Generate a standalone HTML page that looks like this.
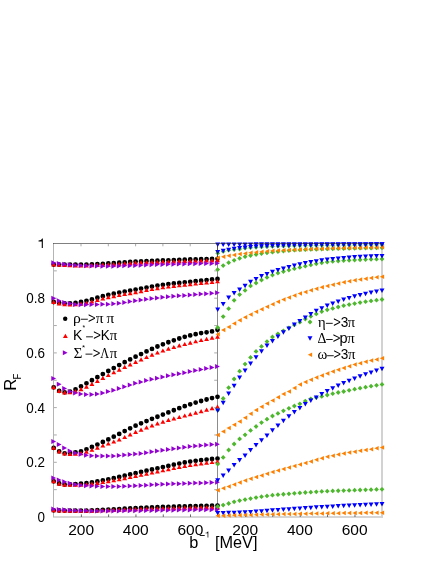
<!DOCTYPE html>
<html><head><meta charset="utf-8"><title>R_F vs b^-1</title>
<style>
html,body{margin:0;padding:0;background:#fff;}
body{width:436px;height:564px;overflow:hidden;font-family:"Liberation Sans",sans-serif;}
svg{display:block}
svg text{font-family:"Liberation Sans",sans-serif;fill:#000}
</style></head><body>
<svg width="436" height="564" viewBox="0 0 436 564">
<defs><filter id="aa" x="0" y="0" width="436" height="564" filterUnits="userSpaceOnUse"><feOffset dx="0" dy="0"/></filter></defs>
<rect width="436" height="564" fill="#fff"/>
<g id="frame-under">
<rect x="53" y="516" width="330" height="2" fill="#d6d6d6"/>
<rect x="381" y="243" width="2" height="275" fill="#d2d2d2"/>
<rect x="53" y="243" width="1" height="274" fill="#b4b4b4"/>
<rect x="217" y="243" width="1" height="274" fill="#8c8c8c"/>
<rect x="54" y="489.15" width="2.8" height="1" fill="#ababab"/>
<rect x="214.2" y="489.15" width="2.8" height="1" fill="#ababab"/>
<rect x="54" y="461.80" width="2.8" height="1" fill="#ababab"/>
<rect x="214.2" y="461.80" width="2.8" height="1" fill="#ababab"/>
<rect x="54" y="434.45" width="2.8" height="1" fill="#ababab"/>
<rect x="214.2" y="434.45" width="2.8" height="1" fill="#ababab"/>
<rect x="54" y="407.10" width="2.8" height="1" fill="#ababab"/>
<rect x="214.2" y="407.10" width="2.8" height="1" fill="#ababab"/>
<rect x="54" y="379.75" width="2.8" height="1" fill="#ababab"/>
<rect x="214.2" y="379.75" width="2.8" height="1" fill="#ababab"/>
<rect x="54" y="352.40" width="2.8" height="1" fill="#ababab"/>
<rect x="214.2" y="352.40" width="2.8" height="1" fill="#ababab"/>
<rect x="54" y="325.05" width="2.8" height="1" fill="#ababab"/>
<rect x="214.2" y="325.05" width="2.8" height="1" fill="#ababab"/>
<rect x="54" y="297.70" width="2.8" height="1" fill="#ababab"/>
<rect x="214.2" y="297.70" width="2.8" height="1" fill="#ababab"/>
<rect x="54" y="270.35" width="2.8" height="1" fill="#ababab"/>
<rect x="214.2" y="270.35" width="2.8" height="1" fill="#ababab"/>
<rect x="80.50" y="244" width="1" height="2.3" fill="#aaa"/>
<rect x="80.90" y="514.4" width="0.9" height="2.6" fill="#5a5a5a"/>
<rect x="244.58" y="244" width="1" height="2.3" fill="#aaa"/>
<rect x="244.98" y="514.4" width="0.9" height="2.6" fill="#5a5a5a"/>
<rect x="107.80" y="244" width="1" height="2.3" fill="#aaa"/>
<rect x="108.20" y="514.4" width="0.9" height="2.6" fill="#5a5a5a"/>
<rect x="271.97" y="244" width="1" height="2.3" fill="#aaa"/>
<rect x="272.37" y="514.4" width="0.9" height="2.6" fill="#5a5a5a"/>
<rect x="135.10" y="244" width="1" height="2.3" fill="#aaa"/>
<rect x="135.50" y="514.4" width="0.9" height="2.6" fill="#5a5a5a"/>
<rect x="299.35" y="244" width="1" height="2.3" fill="#aaa"/>
<rect x="299.75" y="514.4" width="0.9" height="2.6" fill="#5a5a5a"/>
<rect x="162.40" y="244" width="1" height="2.3" fill="#aaa"/>
<rect x="162.80" y="514.4" width="0.9" height="2.6" fill="#5a5a5a"/>
<rect x="326.73" y="244" width="1" height="2.3" fill="#aaa"/>
<rect x="327.13" y="514.4" width="0.9" height="2.6" fill="#5a5a5a"/>
<rect x="189.70" y="244" width="1" height="2.3" fill="#aaa"/>
<rect x="190.10" y="514.4" width="0.9" height="2.6" fill="#5a5a5a"/>
<rect x="354.12" y="244" width="1" height="2.3" fill="#aaa"/>
<rect x="354.52" y="514.4" width="0.9" height="2.6" fill="#5a5a5a"/>
</g>
<g id="points">
<path fill="#000000" d="M51.30 264.50a2.4 2.4 0 1 0 4.8 0a2.4 2.4 0 1 0 -4.8 0ZM56.76 264.55a2.4 2.4 0 1 0 4.8 0a2.4 2.4 0 1 0 -4.8 0ZM62.22 264.58a2.4 2.4 0 1 0 4.8 0a2.4 2.4 0 1 0 -4.8 0ZM67.68 264.59a2.4 2.4 0 1 0 4.8 0a2.4 2.4 0 1 0 -4.8 0ZM73.14 264.60a2.4 2.4 0 1 0 4.8 0a2.4 2.4 0 1 0 -4.8 0ZM78.60 264.60a2.4 2.4 0 1 0 4.8 0a2.4 2.4 0 1 0 -4.8 0ZM84.06 264.53a2.4 2.4 0 1 0 4.8 0a2.4 2.4 0 1 0 -4.8 0ZM89.52 264.35a2.4 2.4 0 1 0 4.8 0a2.4 2.4 0 1 0 -4.8 0ZM94.98 264.09a2.4 2.4 0 1 0 4.8 0a2.4 2.4 0 1 0 -4.8 0ZM100.44 263.79a2.4 2.4 0 1 0 4.8 0a2.4 2.4 0 1 0 -4.8 0ZM105.90 263.50a2.4 2.4 0 1 0 4.8 0a2.4 2.4 0 1 0 -4.8 0ZM111.36 263.17a2.4 2.4 0 1 0 4.8 0a2.4 2.4 0 1 0 -4.8 0ZM116.82 262.76a2.4 2.4 0 1 0 4.8 0a2.4 2.4 0 1 0 -4.8 0ZM122.28 262.34a2.4 2.4 0 1 0 4.8 0a2.4 2.4 0 1 0 -4.8 0ZM127.74 261.93a2.4 2.4 0 1 0 4.8 0a2.4 2.4 0 1 0 -4.8 0ZM133.20 261.60a2.4 2.4 0 1 0 4.8 0a2.4 2.4 0 1 0 -4.8 0ZM138.66 261.34a2.4 2.4 0 1 0 4.8 0a2.4 2.4 0 1 0 -4.8 0ZM144.12 261.11a2.4 2.4 0 1 0 4.8 0a2.4 2.4 0 1 0 -4.8 0ZM149.58 260.90a2.4 2.4 0 1 0 4.8 0a2.4 2.4 0 1 0 -4.8 0ZM155.04 260.70a2.4 2.4 0 1 0 4.8 0a2.4 2.4 0 1 0 -4.8 0ZM160.50 260.50a2.4 2.4 0 1 0 4.8 0a2.4 2.4 0 1 0 -4.8 0ZM165.96 260.29a2.4 2.4 0 1 0 4.8 0a2.4 2.4 0 1 0 -4.8 0ZM171.42 260.08a2.4 2.4 0 1 0 4.8 0a2.4 2.4 0 1 0 -4.8 0ZM176.88 259.87a2.4 2.4 0 1 0 4.8 0a2.4 2.4 0 1 0 -4.8 0ZM182.34 259.68a2.4 2.4 0 1 0 4.8 0a2.4 2.4 0 1 0 -4.8 0ZM187.80 259.50a2.4 2.4 0 1 0 4.8 0a2.4 2.4 0 1 0 -4.8 0ZM193.26 259.34a2.4 2.4 0 1 0 4.8 0a2.4 2.4 0 1 0 -4.8 0ZM198.72 259.19a2.4 2.4 0 1 0 4.8 0a2.4 2.4 0 1 0 -4.8 0ZM204.18 259.05a2.4 2.4 0 1 0 4.8 0a2.4 2.4 0 1 0 -4.8 0ZM209.64 258.92a2.4 2.4 0 1 0 4.8 0a2.4 2.4 0 1 0 -4.8 0ZM215.10 258.80a2.4 2.4 0 1 0 4.8 0a2.4 2.4 0 1 0 -4.8 0Z"/>
<path fill="#000000" d="M51.30 302.00a2.4 2.4 0 1 0 4.8 0a2.4 2.4 0 1 0 -4.8 0ZM56.76 302.86a2.4 2.4 0 1 0 4.8 0a2.4 2.4 0 1 0 -4.8 0ZM62.22 303.30a2.4 2.4 0 1 0 4.8 0a2.4 2.4 0 1 0 -4.8 0ZM67.68 303.40a2.4 2.4 0 1 0 4.8 0a2.4 2.4 0 1 0 -4.8 0ZM73.14 302.92a2.4 2.4 0 1 0 4.8 0a2.4 2.4 0 1 0 -4.8 0ZM78.60 302.00a2.4 2.4 0 1 0 4.8 0a2.4 2.4 0 1 0 -4.8 0ZM84.06 300.87a2.4 2.4 0 1 0 4.8 0a2.4 2.4 0 1 0 -4.8 0ZM89.52 299.40a2.4 2.4 0 1 0 4.8 0a2.4 2.4 0 1 0 -4.8 0ZM94.98 297.77a2.4 2.4 0 1 0 4.8 0a2.4 2.4 0 1 0 -4.8 0ZM100.44 296.18a2.4 2.4 0 1 0 4.8 0a2.4 2.4 0 1 0 -4.8 0ZM105.90 294.80a2.4 2.4 0 1 0 4.8 0a2.4 2.4 0 1 0 -4.8 0ZM111.36 293.65a2.4 2.4 0 1 0 4.8 0a2.4 2.4 0 1 0 -4.8 0ZM116.82 292.58a2.4 2.4 0 1 0 4.8 0a2.4 2.4 0 1 0 -4.8 0ZM122.28 291.57a2.4 2.4 0 1 0 4.8 0a2.4 2.4 0 1 0 -4.8 0ZM127.74 290.59a2.4 2.4 0 1 0 4.8 0a2.4 2.4 0 1 0 -4.8 0ZM133.20 289.60a2.4 2.4 0 1 0 4.8 0a2.4 2.4 0 1 0 -4.8 0ZM138.66 288.58a2.4 2.4 0 1 0 4.8 0a2.4 2.4 0 1 0 -4.8 0ZM144.12 287.55a2.4 2.4 0 1 0 4.8 0a2.4 2.4 0 1 0 -4.8 0ZM149.58 286.54a2.4 2.4 0 1 0 4.8 0a2.4 2.4 0 1 0 -4.8 0ZM155.04 285.61a2.4 2.4 0 1 0 4.8 0a2.4 2.4 0 1 0 -4.8 0ZM160.50 284.80a2.4 2.4 0 1 0 4.8 0a2.4 2.4 0 1 0 -4.8 0ZM165.96 284.11a2.4 2.4 0 1 0 4.8 0a2.4 2.4 0 1 0 -4.8 0ZM171.42 283.50a2.4 2.4 0 1 0 4.8 0a2.4 2.4 0 1 0 -4.8 0ZM176.88 282.93a2.4 2.4 0 1 0 4.8 0a2.4 2.4 0 1 0 -4.8 0ZM182.34 282.37a2.4 2.4 0 1 0 4.8 0a2.4 2.4 0 1 0 -4.8 0ZM187.80 281.80a2.4 2.4 0 1 0 4.8 0a2.4 2.4 0 1 0 -4.8 0ZM193.26 281.21a2.4 2.4 0 1 0 4.8 0a2.4 2.4 0 1 0 -4.8 0ZM198.72 280.63a2.4 2.4 0 1 0 4.8 0a2.4 2.4 0 1 0 -4.8 0ZM204.18 280.05a2.4 2.4 0 1 0 4.8 0a2.4 2.4 0 1 0 -4.8 0ZM209.64 279.47a2.4 2.4 0 1 0 4.8 0a2.4 2.4 0 1 0 -4.8 0ZM215.10 278.90a2.4 2.4 0 1 0 4.8 0a2.4 2.4 0 1 0 -4.8 0Z"/>
<path fill="#000000" d="M51.30 387.30a2.4 2.4 0 1 0 4.8 0a2.4 2.4 0 1 0 -4.8 0ZM56.76 390.90a2.4 2.4 0 1 0 4.8 0a2.4 2.4 0 1 0 -4.8 0ZM62.22 392.30a2.4 2.4 0 1 0 4.8 0a2.4 2.4 0 1 0 -4.8 0ZM67.68 391.70a2.4 2.4 0 1 0 4.8 0a2.4 2.4 0 1 0 -4.8 0ZM73.14 389.30a2.4 2.4 0 1 0 4.8 0a2.4 2.4 0 1 0 -4.8 0ZM78.60 386.40a2.4 2.4 0 1 0 4.8 0a2.4 2.4 0 1 0 -4.8 0ZM84.06 383.37a2.4 2.4 0 1 0 4.8 0a2.4 2.4 0 1 0 -4.8 0ZM89.52 380.27a2.4 2.4 0 1 0 4.8 0a2.4 2.4 0 1 0 -4.8 0ZM94.98 377.13a2.4 2.4 0 1 0 4.8 0a2.4 2.4 0 1 0 -4.8 0ZM100.44 374.03a2.4 2.4 0 1 0 4.8 0a2.4 2.4 0 1 0 -4.8 0ZM105.90 371.00a2.4 2.4 0 1 0 4.8 0a2.4 2.4 0 1 0 -4.8 0ZM111.36 368.04a2.4 2.4 0 1 0 4.8 0a2.4 2.4 0 1 0 -4.8 0ZM116.82 365.11a2.4 2.4 0 1 0 4.8 0a2.4 2.4 0 1 0 -4.8 0ZM122.28 362.22a2.4 2.4 0 1 0 4.8 0a2.4 2.4 0 1 0 -4.8 0ZM127.74 359.41a2.4 2.4 0 1 0 4.8 0a2.4 2.4 0 1 0 -4.8 0ZM133.20 356.70a2.4 2.4 0 1 0 4.8 0a2.4 2.4 0 1 0 -4.8 0ZM138.66 354.04a2.4 2.4 0 1 0 4.8 0a2.4 2.4 0 1 0 -4.8 0ZM144.12 351.42a2.4 2.4 0 1 0 4.8 0a2.4 2.4 0 1 0 -4.8 0ZM149.58 348.88a2.4 2.4 0 1 0 4.8 0a2.4 2.4 0 1 0 -4.8 0ZM155.04 346.49a2.4 2.4 0 1 0 4.8 0a2.4 2.4 0 1 0 -4.8 0ZM160.50 344.30a2.4 2.4 0 1 0 4.8 0a2.4 2.4 0 1 0 -4.8 0ZM165.96 342.26a2.4 2.4 0 1 0 4.8 0a2.4 2.4 0 1 0 -4.8 0ZM171.42 340.33a2.4 2.4 0 1 0 4.8 0a2.4 2.4 0 1 0 -4.8 0ZM176.88 338.51a2.4 2.4 0 1 0 4.8 0a2.4 2.4 0 1 0 -4.8 0ZM182.34 336.86a2.4 2.4 0 1 0 4.8 0a2.4 2.4 0 1 0 -4.8 0ZM187.80 335.40a2.4 2.4 0 1 0 4.8 0a2.4 2.4 0 1 0 -4.8 0ZM193.26 334.16a2.4 2.4 0 1 0 4.8 0a2.4 2.4 0 1 0 -4.8 0ZM198.72 333.10a2.4 2.4 0 1 0 4.8 0a2.4 2.4 0 1 0 -4.8 0ZM204.18 332.29a2.4 2.4 0 1 0 4.8 0a2.4 2.4 0 1 0 -4.8 0ZM209.64 331.40a2.4 2.4 0 1 0 4.8 0a2.4 2.4 0 1 0 -4.8 0ZM215.10 329.80a2.4 2.4 0 1 0 4.8 0a2.4 2.4 0 1 0 -4.8 0Z"/>
<path fill="#000000" d="M51.30 447.90a2.4 2.4 0 1 0 4.8 0a2.4 2.4 0 1 0 -4.8 0ZM56.76 451.30a2.4 2.4 0 1 0 4.8 0a2.4 2.4 0 1 0 -4.8 0ZM62.22 453.30a2.4 2.4 0 1 0 4.8 0a2.4 2.4 0 1 0 -4.8 0ZM67.68 452.90a2.4 2.4 0 1 0 4.8 0a2.4 2.4 0 1 0 -4.8 0ZM73.14 452.30a2.4 2.4 0 1 0 4.8 0a2.4 2.4 0 1 0 -4.8 0ZM78.60 451.30a2.4 2.4 0 1 0 4.8 0a2.4 2.4 0 1 0 -4.8 0ZM84.06 449.30a2.4 2.4 0 1 0 4.8 0a2.4 2.4 0 1 0 -4.8 0ZM89.52 447.02a2.4 2.4 0 1 0 4.8 0a2.4 2.4 0 1 0 -4.8 0ZM94.98 444.56a2.4 2.4 0 1 0 4.8 0a2.4 2.4 0 1 0 -4.8 0ZM100.44 442.00a2.4 2.4 0 1 0 4.8 0a2.4 2.4 0 1 0 -4.8 0ZM105.90 439.40a2.4 2.4 0 1 0 4.8 0a2.4 2.4 0 1 0 -4.8 0ZM111.36 436.71a2.4 2.4 0 1 0 4.8 0a2.4 2.4 0 1 0 -4.8 0ZM116.82 433.89a2.4 2.4 0 1 0 4.8 0a2.4 2.4 0 1 0 -4.8 0ZM122.28 431.04a2.4 2.4 0 1 0 4.8 0a2.4 2.4 0 1 0 -4.8 0ZM127.74 428.28a2.4 2.4 0 1 0 4.8 0a2.4 2.4 0 1 0 -4.8 0ZM133.20 425.70a2.4 2.4 0 1 0 4.8 0a2.4 2.4 0 1 0 -4.8 0ZM138.66 423.32a2.4 2.4 0 1 0 4.8 0a2.4 2.4 0 1 0 -4.8 0ZM144.12 421.05a2.4 2.4 0 1 0 4.8 0a2.4 2.4 0 1 0 -4.8 0ZM149.58 418.87a2.4 2.4 0 1 0 4.8 0a2.4 2.4 0 1 0 -4.8 0ZM155.04 416.73a2.4 2.4 0 1 0 4.8 0a2.4 2.4 0 1 0 -4.8 0ZM160.50 414.60a2.4 2.4 0 1 0 4.8 0a2.4 2.4 0 1 0 -4.8 0ZM165.96 412.44a2.4 2.4 0 1 0 4.8 0a2.4 2.4 0 1 0 -4.8 0ZM171.42 410.27a2.4 2.4 0 1 0 4.8 0a2.4 2.4 0 1 0 -4.8 0ZM176.88 408.15a2.4 2.4 0 1 0 4.8 0a2.4 2.4 0 1 0 -4.8 0ZM182.34 406.14a2.4 2.4 0 1 0 4.8 0a2.4 2.4 0 1 0 -4.8 0ZM187.80 404.30a2.4 2.4 0 1 0 4.8 0a2.4 2.4 0 1 0 -4.8 0ZM193.26 402.60a2.4 2.4 0 1 0 4.8 0a2.4 2.4 0 1 0 -4.8 0ZM198.72 401.00a2.4 2.4 0 1 0 4.8 0a2.4 2.4 0 1 0 -4.8 0ZM204.18 399.49a2.4 2.4 0 1 0 4.8 0a2.4 2.4 0 1 0 -4.8 0ZM209.64 398.08a2.4 2.4 0 1 0 4.8 0a2.4 2.4 0 1 0 -4.8 0ZM215.10 396.80a2.4 2.4 0 1 0 4.8 0a2.4 2.4 0 1 0 -4.8 0Z"/>
<path fill="#000000" d="M51.30 481.30a2.4 2.4 0 1 0 4.8 0a2.4 2.4 0 1 0 -4.8 0ZM56.76 483.49a2.4 2.4 0 1 0 4.8 0a2.4 2.4 0 1 0 -4.8 0ZM62.22 484.50a2.4 2.4 0 1 0 4.8 0a2.4 2.4 0 1 0 -4.8 0ZM67.68 484.38a2.4 2.4 0 1 0 4.8 0a2.4 2.4 0 1 0 -4.8 0ZM73.14 484.08a2.4 2.4 0 1 0 4.8 0a2.4 2.4 0 1 0 -4.8 0ZM78.60 483.70a2.4 2.4 0 1 0 4.8 0a2.4 2.4 0 1 0 -4.8 0ZM84.06 483.16a2.4 2.4 0 1 0 4.8 0a2.4 2.4 0 1 0 -4.8 0ZM89.52 482.36a2.4 2.4 0 1 0 4.8 0a2.4 2.4 0 1 0 -4.8 0ZM94.98 481.40a2.4 2.4 0 1 0 4.8 0a2.4 2.4 0 1 0 -4.8 0ZM100.44 480.35a2.4 2.4 0 1 0 4.8 0a2.4 2.4 0 1 0 -4.8 0ZM105.90 479.30a2.4 2.4 0 1 0 4.8 0a2.4 2.4 0 1 0 -4.8 0ZM111.36 478.21a2.4 2.4 0 1 0 4.8 0a2.4 2.4 0 1 0 -4.8 0ZM116.82 477.00a2.4 2.4 0 1 0 4.8 0a2.4 2.4 0 1 0 -4.8 0ZM122.28 475.73a2.4 2.4 0 1 0 4.8 0a2.4 2.4 0 1 0 -4.8 0ZM127.74 474.45a2.4 2.4 0 1 0 4.8 0a2.4 2.4 0 1 0 -4.8 0ZM133.20 473.20a2.4 2.4 0 1 0 4.8 0a2.4 2.4 0 1 0 -4.8 0ZM138.66 471.97a2.4 2.4 0 1 0 4.8 0a2.4 2.4 0 1 0 -4.8 0ZM144.12 470.73a2.4 2.4 0 1 0 4.8 0a2.4 2.4 0 1 0 -4.8 0ZM149.58 469.49a2.4 2.4 0 1 0 4.8 0a2.4 2.4 0 1 0 -4.8 0ZM155.04 468.28a2.4 2.4 0 1 0 4.8 0a2.4 2.4 0 1 0 -4.8 0ZM160.50 467.10a2.4 2.4 0 1 0 4.8 0a2.4 2.4 0 1 0 -4.8 0ZM165.96 465.91a2.4 2.4 0 1 0 4.8 0a2.4 2.4 0 1 0 -4.8 0ZM171.42 464.70a2.4 2.4 0 1 0 4.8 0a2.4 2.4 0 1 0 -4.8 0ZM176.88 463.54a2.4 2.4 0 1 0 4.8 0a2.4 2.4 0 1 0 -4.8 0ZM182.34 462.48a2.4 2.4 0 1 0 4.8 0a2.4 2.4 0 1 0 -4.8 0ZM187.80 461.60a2.4 2.4 0 1 0 4.8 0a2.4 2.4 0 1 0 -4.8 0ZM193.26 460.85a2.4 2.4 0 1 0 4.8 0a2.4 2.4 0 1 0 -4.8 0ZM198.72 460.15a2.4 2.4 0 1 0 4.8 0a2.4 2.4 0 1 0 -4.8 0ZM204.18 459.54a2.4 2.4 0 1 0 4.8 0a2.4 2.4 0 1 0 -4.8 0ZM209.64 459.01a2.4 2.4 0 1 0 4.8 0a2.4 2.4 0 1 0 -4.8 0ZM215.10 458.60a2.4 2.4 0 1 0 4.8 0a2.4 2.4 0 1 0 -4.8 0Z"/>
<path fill="#000000" d="M51.30 510.30a2.4 2.4 0 1 0 4.8 0a2.4 2.4 0 1 0 -4.8 0ZM56.76 510.48a2.4 2.4 0 1 0 4.8 0a2.4 2.4 0 1 0 -4.8 0ZM62.22 510.60a2.4 2.4 0 1 0 4.8 0a2.4 2.4 0 1 0 -4.8 0ZM67.68 510.66a2.4 2.4 0 1 0 4.8 0a2.4 2.4 0 1 0 -4.8 0ZM73.14 510.69a2.4 2.4 0 1 0 4.8 0a2.4 2.4 0 1 0 -4.8 0ZM78.60 510.70a2.4 2.4 0 1 0 4.8 0a2.4 2.4 0 1 0 -4.8 0ZM84.06 510.64a2.4 2.4 0 1 0 4.8 0a2.4 2.4 0 1 0 -4.8 0ZM89.52 510.47a2.4 2.4 0 1 0 4.8 0a2.4 2.4 0 1 0 -4.8 0ZM94.98 510.23a2.4 2.4 0 1 0 4.8 0a2.4 2.4 0 1 0 -4.8 0ZM100.44 509.96a2.4 2.4 0 1 0 4.8 0a2.4 2.4 0 1 0 -4.8 0ZM105.90 509.70a2.4 2.4 0 1 0 4.8 0a2.4 2.4 0 1 0 -4.8 0ZM111.36 509.42a2.4 2.4 0 1 0 4.8 0a2.4 2.4 0 1 0 -4.8 0ZM116.82 509.08a2.4 2.4 0 1 0 4.8 0a2.4 2.4 0 1 0 -4.8 0ZM122.28 508.73a2.4 2.4 0 1 0 4.8 0a2.4 2.4 0 1 0 -4.8 0ZM127.74 508.39a2.4 2.4 0 1 0 4.8 0a2.4 2.4 0 1 0 -4.8 0ZM133.20 508.10a2.4 2.4 0 1 0 4.8 0a2.4 2.4 0 1 0 -4.8 0ZM138.66 507.85a2.4 2.4 0 1 0 4.8 0a2.4 2.4 0 1 0 -4.8 0ZM144.12 507.61a2.4 2.4 0 1 0 4.8 0a2.4 2.4 0 1 0 -4.8 0ZM149.58 507.40a2.4 2.4 0 1 0 4.8 0a2.4 2.4 0 1 0 -4.8 0ZM155.04 507.19a2.4 2.4 0 1 0 4.8 0a2.4 2.4 0 1 0 -4.8 0ZM160.50 507.00a2.4 2.4 0 1 0 4.8 0a2.4 2.4 0 1 0 -4.8 0ZM165.96 506.82a2.4 2.4 0 1 0 4.8 0a2.4 2.4 0 1 0 -4.8 0ZM171.42 506.65a2.4 2.4 0 1 0 4.8 0a2.4 2.4 0 1 0 -4.8 0ZM176.88 506.49a2.4 2.4 0 1 0 4.8 0a2.4 2.4 0 1 0 -4.8 0ZM182.34 506.34a2.4 2.4 0 1 0 4.8 0a2.4 2.4 0 1 0 -4.8 0ZM187.80 506.20a2.4 2.4 0 1 0 4.8 0a2.4 2.4 0 1 0 -4.8 0ZM193.26 506.07a2.4 2.4 0 1 0 4.8 0a2.4 2.4 0 1 0 -4.8 0ZM198.72 505.94a2.4 2.4 0 1 0 4.8 0a2.4 2.4 0 1 0 -4.8 0ZM204.18 505.82a2.4 2.4 0 1 0 4.8 0a2.4 2.4 0 1 0 -4.8 0ZM209.64 505.70a2.4 2.4 0 1 0 4.8 0a2.4 2.4 0 1 0 -4.8 0ZM215.10 505.60a2.4 2.4 0 1 0 4.8 0a2.4 2.4 0 1 0 -4.8 0Z"/>
<path fill="#ff0000" d="M51.25 266.45L56.15 266.45L53.70 262.30ZM56.71 266.81L61.61 266.81L59.16 262.66ZM62.17 267.09L67.07 267.09L64.62 262.94ZM67.63 267.29L72.53 267.29L70.08 263.14ZM73.09 267.41L77.99 267.41L75.54 263.26ZM78.55 267.45L83.45 267.45L81.00 263.30ZM84.01 267.39L88.91 267.39L86.46 263.24ZM89.47 267.22L94.37 267.22L91.92 263.07ZM94.93 266.98L99.83 266.98L97.38 262.83ZM100.39 266.72L105.29 266.72L102.84 262.57ZM105.85 266.45L110.75 266.45L108.30 262.30ZM111.31 266.15L116.21 266.15L113.76 262.00ZM116.77 265.79L121.67 265.79L119.22 261.64ZM122.23 265.41L127.13 265.41L124.68 261.26ZM127.69 265.05L132.59 265.05L130.14 260.90ZM133.15 264.75L138.05 264.75L135.60 260.60ZM138.61 264.51L143.51 264.51L141.06 260.36ZM144.07 264.30L148.97 264.30L146.52 260.15ZM149.53 264.11L154.43 264.11L151.98 259.96ZM154.99 263.93L159.89 263.93L157.44 259.78ZM160.45 263.75L165.35 263.75L162.90 259.60ZM165.91 263.58L170.81 263.58L168.36 259.43ZM171.37 263.41L176.27 263.41L173.82 259.26ZM176.83 263.25L181.73 263.25L179.28 259.10ZM182.29 263.10L187.19 263.10L184.74 258.95ZM187.75 262.95L192.65 262.95L190.20 258.80ZM193.21 262.80L198.11 262.80L195.66 258.65ZM198.67 262.66L203.57 262.66L201.12 258.51ZM204.13 262.52L209.03 262.52L206.58 258.37ZM209.59 262.38L214.49 262.38L212.04 258.23ZM215.05 262.25L219.95 262.25L217.50 258.10Z"/>
<path fill="#ff0000" d="M51.25 303.95L56.15 303.95L53.70 299.80ZM56.71 305.42L61.61 305.42L59.16 301.27ZM62.17 306.25L67.07 306.25L64.62 302.10ZM67.63 306.55L72.53 306.55L70.08 302.40ZM73.09 306.29L77.99 306.29L75.54 302.14ZM78.55 305.75L83.45 305.75L81.00 301.60ZM84.01 304.89L88.91 304.89L86.46 300.74ZM89.47 303.60L94.37 303.60L91.92 299.45ZM94.93 302.09L99.83 302.09L97.38 297.94ZM100.39 300.57L105.29 300.57L102.84 296.42ZM105.85 299.25L110.75 299.25L108.30 295.10ZM111.31 298.15L116.21 298.15L113.76 294.00ZM116.77 297.11L121.67 297.11L119.22 292.96ZM122.23 296.11L127.13 296.11L124.68 291.96ZM127.69 295.13L132.59 295.13L130.14 290.98ZM133.15 294.15L138.05 294.15L135.60 290.00ZM138.61 293.14L143.51 293.14L141.06 288.99ZM144.07 292.12L148.97 292.12L146.52 287.97ZM149.53 291.12L154.43 291.12L151.98 286.97ZM154.99 290.18L159.89 290.18L157.44 286.03ZM160.45 289.35L165.35 289.35L162.90 285.20ZM165.91 288.62L170.81 288.62L168.36 284.47ZM171.37 287.96L176.27 287.96L173.82 283.81ZM176.83 287.34L181.73 287.34L179.28 283.19ZM182.29 286.74L187.19 286.74L184.74 282.59ZM187.75 286.15L192.65 286.15L190.20 282.00ZM193.21 285.56L198.11 285.56L195.66 281.41ZM198.67 284.98L203.57 284.98L201.12 280.83ZM204.13 284.42L209.03 284.42L206.58 280.27ZM209.59 283.88L214.49 283.88L212.04 279.73ZM215.05 283.35L219.95 283.35L217.50 279.20Z"/>
<path fill="#ff0000" d="M51.25 389.25L56.15 389.25L53.70 385.10ZM56.71 392.95L61.61 392.95L59.16 388.80ZM62.17 394.45L67.07 394.45L64.62 390.30ZM67.63 394.25L72.53 394.25L70.08 390.10ZM73.09 393.25L77.99 393.25L75.54 389.10ZM78.55 391.25L83.45 391.25L81.00 387.10ZM84.01 388.76L88.91 388.76L86.46 384.61ZM89.47 385.93L94.37 385.93L91.92 381.78ZM94.93 382.93L99.83 382.93L97.38 378.78ZM100.39 379.91L105.29 379.91L102.84 375.76ZM105.85 377.05L110.75 377.05L108.30 372.90ZM111.31 374.33L116.21 374.33L113.76 370.18ZM116.77 371.65L121.67 371.65L119.22 367.50ZM122.23 369.01L127.13 369.01L124.68 364.86ZM127.69 366.44L132.59 366.44L130.14 362.29ZM133.15 363.95L138.05 363.95L135.60 359.80ZM138.61 361.50L143.51 361.50L141.06 357.35ZM144.07 359.08L148.97 359.08L146.52 354.93ZM149.53 356.74L154.43 356.74L151.98 352.59ZM154.99 354.54L159.89 354.54L157.44 350.39ZM160.45 352.55L165.35 352.55L162.90 348.40ZM165.91 350.75L170.81 350.75L168.36 346.60ZM171.37 349.07L176.27 349.07L173.82 344.92ZM176.83 347.51L181.73 347.51L179.28 343.36ZM182.29 346.04L187.19 346.04L184.74 341.89ZM187.75 344.65L192.65 344.65L190.20 340.50ZM193.21 343.33L198.11 343.33L195.66 339.18ZM198.67 342.07L203.57 342.07L201.12 337.92ZM204.13 340.88L209.03 340.88L206.58 336.73ZM209.59 339.77L214.49 339.77L212.04 335.62ZM215.05 338.75L219.95 338.75L217.50 334.60Z"/>
<path fill="#ff0000" d="M51.25 449.85L56.15 449.85L53.70 445.70ZM56.71 453.45L61.61 453.45L59.16 449.30ZM62.17 455.45L67.07 455.45L64.62 451.30ZM67.63 455.95L72.53 455.95L70.08 451.80ZM73.09 455.65L77.99 455.65L75.54 451.50ZM78.55 455.25L83.45 455.25L81.00 451.10ZM84.01 453.65L88.91 453.65L86.46 449.50ZM89.47 451.78L94.37 451.78L91.92 447.63ZM94.93 449.73L99.83 449.73L97.38 445.58ZM100.39 447.62L105.29 447.62L102.84 443.47ZM105.85 445.55L110.75 445.55L108.30 441.40ZM111.31 443.60L116.21 443.60L113.76 439.45ZM116.77 441.55L121.67 441.55L119.22 437.40ZM122.23 439.10L127.13 439.10L124.68 434.95ZM127.69 436.45L132.59 436.45L130.14 432.30ZM133.15 433.95L138.05 433.95L135.60 429.80ZM138.61 431.69L143.51 431.69L141.06 427.54ZM144.07 429.51L148.97 429.51L146.52 425.36ZM149.53 427.43L154.43 427.43L151.98 423.28ZM154.99 425.47L159.89 425.47L157.44 421.32ZM160.45 423.65L165.35 423.65L162.90 419.50ZM165.91 422.00L170.81 422.00L168.36 417.85ZM171.37 420.48L176.27 420.48L173.82 416.33ZM176.83 419.04L181.73 419.04L179.28 414.89ZM182.29 417.61L187.19 417.61L184.74 413.46ZM187.75 416.15L192.65 416.15L190.20 412.00ZM193.21 414.65L198.11 414.65L195.66 410.50ZM198.67 413.15L203.57 413.15L201.12 409.00ZM204.13 411.65L209.03 411.65L206.58 407.50ZM209.59 410.15L214.49 410.15L212.04 406.00ZM215.05 408.65L219.95 408.65L217.50 404.50Z"/>
<path fill="#ff0000" d="M51.25 483.25L56.15 483.25L53.70 479.10ZM56.71 485.69L61.61 485.69L59.16 481.54ZM62.17 486.85L67.07 486.85L64.62 482.70ZM67.63 486.82L72.53 486.82L70.08 482.67ZM73.09 486.75L77.99 486.75L75.54 482.60ZM78.55 486.65L83.45 486.65L81.00 482.50ZM84.01 486.36L88.91 486.36L86.46 482.21ZM89.47 485.77L94.37 485.77L91.92 481.62ZM94.93 484.99L99.83 484.99L97.38 480.84ZM100.39 484.12L105.29 484.12L102.84 479.97ZM105.85 483.25L110.75 483.25L108.30 479.10ZM111.31 482.34L116.21 482.34L113.76 478.19ZM116.77 481.31L121.67 481.31L119.22 477.16ZM122.23 480.20L127.13 480.20L124.68 476.05ZM127.69 479.07L132.59 479.07L130.14 474.92ZM133.15 477.95L138.05 477.95L135.60 473.80ZM138.61 476.84L143.51 476.84L141.06 472.69ZM144.07 475.72L148.97 475.72L146.52 471.57ZM149.53 474.58L154.43 474.58L151.98 470.43ZM154.99 473.46L159.89 473.46L157.44 469.31ZM160.45 472.35L165.35 472.35L162.90 468.20ZM165.91 471.24L170.81 471.24L168.36 467.09ZM171.37 470.10L176.27 470.10L173.82 465.95ZM176.83 469.00L181.73 469.00L179.28 464.85ZM182.29 467.97L187.19 467.97L184.74 463.82ZM187.75 467.05L192.65 467.05L190.20 462.90ZM193.21 466.23L198.11 466.23L195.66 462.08ZM198.67 465.46L203.57 465.46L201.12 461.31ZM204.13 464.75L209.03 464.75L206.58 460.60ZM209.59 464.11L214.49 464.11L212.04 459.96ZM215.05 463.55L219.95 463.55L217.50 459.40Z"/>
<path fill="#ff0000" d="M51.25 512.25L56.15 512.25L53.70 508.10ZM56.71 512.47L61.61 512.47L59.16 508.32ZM62.17 512.64L67.07 512.64L64.62 508.49ZM67.63 512.76L72.53 512.76L70.08 508.61ZM73.09 512.83L77.99 512.83L75.54 508.68ZM78.55 512.85L83.45 512.85L81.00 508.70ZM84.01 512.80L88.91 512.80L86.46 508.65ZM89.47 512.68L94.37 512.68L91.92 508.53ZM94.93 512.51L99.83 512.51L97.38 508.36ZM100.39 512.33L105.29 512.33L102.84 508.18ZM105.85 512.15L110.75 512.15L108.30 508.00ZM111.31 511.97L116.21 511.97L113.76 507.82ZM116.77 511.76L121.67 511.76L119.22 507.61ZM122.23 511.55L127.13 511.55L124.68 507.40ZM127.69 511.34L132.59 511.34L130.14 507.19ZM133.15 511.15L138.05 511.15L135.60 507.00ZM138.61 510.98L143.51 510.98L141.06 506.83ZM144.07 510.81L148.97 510.81L146.52 506.66ZM149.53 510.65L154.43 510.65L151.98 506.50ZM154.99 510.50L159.89 510.50L157.44 506.35ZM160.45 510.35L165.35 510.35L162.90 506.20ZM165.91 510.20L170.81 510.20L168.36 506.05ZM171.37 510.05L176.27 510.05L173.82 505.90ZM176.83 509.91L181.73 509.91L179.28 505.76ZM182.29 509.77L187.19 509.77L184.74 505.62ZM187.75 509.65L192.65 509.65L190.20 505.50ZM193.21 509.54L198.11 509.54L195.66 505.39ZM198.67 509.43L203.57 509.43L201.12 505.28ZM204.13 509.33L209.03 509.33L206.58 505.18ZM209.59 509.23L214.49 509.23L212.04 505.08ZM215.05 509.15L219.95 509.15L217.50 505.00Z"/>
<path fill="#9400d3" d="M51.30 260.30L51.30 265.30L56.10 262.80ZM56.76 261.02L56.76 266.02L61.56 263.52ZM62.22 261.68L62.22 266.68L67.02 264.18ZM67.68 262.24L67.68 267.24L72.48 264.74ZM73.14 262.70L73.14 267.70L77.94 265.20ZM78.60 263.00L78.60 268.00L83.40 265.50ZM84.06 263.22L84.06 268.22L88.86 265.72ZM89.52 263.41L89.52 268.41L94.32 265.91ZM94.98 263.56L94.98 268.56L99.78 266.06ZM100.44 263.66L100.44 268.66L105.24 266.16ZM105.90 263.70L105.90 268.70L110.70 266.20ZM111.36 263.65L111.36 268.65L116.16 266.15ZM116.82 263.54L116.82 268.54L121.62 266.04ZM122.28 263.37L122.28 268.37L127.08 265.87ZM127.74 263.18L127.74 268.18L132.54 265.68ZM133.20 263.00L133.20 268.00L138.00 265.50ZM138.66 262.80L138.66 267.80L143.46 265.30ZM144.12 262.56L144.12 267.56L148.92 265.06ZM149.58 262.32L149.58 267.32L154.38 264.82ZM155.04 262.09L155.04 267.09L159.84 264.59ZM160.50 261.90L160.50 266.90L165.30 264.40ZM165.96 261.76L165.96 266.76L170.76 264.26ZM171.42 261.63L171.42 266.63L176.22 264.13ZM176.88 261.52L176.88 266.52L181.68 264.02ZM182.34 261.41L182.34 266.41L187.14 263.91ZM187.80 261.30L187.80 266.30L192.60 263.80ZM193.26 261.19L193.26 266.19L198.06 263.69ZM198.72 261.09L198.72 266.09L203.52 263.59ZM204.18 260.99L204.18 265.99L208.98 263.49ZM209.64 260.89L209.64 265.89L214.44 263.39ZM215.10 260.80L215.10 265.80L219.90 263.30Z"/>
<path fill="#9400d3" d="M51.30 295.80L51.30 300.80L56.10 298.30ZM56.76 298.28L56.76 303.28L61.56 300.78ZM62.22 300.00L62.22 305.00L67.02 302.50ZM67.68 301.07L67.68 306.07L72.48 303.57ZM73.14 301.88L73.14 306.88L77.94 304.38ZM78.60 302.20L78.60 307.20L83.40 304.70ZM84.06 302.18L84.06 307.18L88.86 304.68ZM89.52 302.11L89.52 307.11L94.32 304.61ZM94.98 302.00L94.98 307.00L99.78 304.50ZM100.44 301.86L100.44 306.86L105.24 304.36ZM105.90 301.70L105.90 306.70L110.70 304.20ZM111.36 301.35L111.36 306.35L116.16 303.85ZM116.82 300.71L116.82 305.71L121.62 303.21ZM122.28 299.91L122.28 304.91L127.08 302.41ZM127.74 299.07L127.74 304.07L132.54 301.57ZM133.20 298.30L133.20 303.30L138.00 300.80ZM138.66 297.58L138.66 302.58L143.46 300.08ZM144.12 296.84L144.12 301.84L148.92 299.34ZM149.58 296.10L149.58 301.10L154.38 298.60ZM155.04 295.41L155.04 300.41L159.84 297.91ZM160.50 294.80L160.50 299.80L165.30 297.30ZM165.96 294.28L165.96 299.28L170.76 296.78ZM171.42 293.81L171.42 298.81L176.22 296.31ZM176.88 293.37L176.88 298.37L181.68 295.87ZM182.34 292.94L182.34 297.94L187.14 295.44ZM187.80 292.50L187.80 297.50L192.60 295.00ZM193.26 292.05L193.26 297.05L198.06 294.55ZM198.72 291.61L198.72 296.61L203.52 294.11ZM204.18 291.17L204.18 296.17L208.98 293.67ZM209.64 290.73L209.64 295.73L214.44 293.23ZM215.10 290.30L215.10 295.30L219.90 292.80Z"/>
<path fill="#9400d3" d="M51.30 375.90L51.30 380.90L56.10 378.40ZM56.76 381.70L56.76 386.70L61.56 384.20ZM62.22 386.10L62.22 391.10L67.02 388.60ZM67.68 389.00L67.68 394.00L72.48 391.50ZM73.14 390.50L73.14 395.50L77.94 393.00ZM78.60 391.50L78.60 396.50L83.40 394.00ZM84.06 392.10L84.06 397.10L88.86 394.60ZM89.52 392.10L89.52 397.10L94.32 394.60ZM94.98 391.59L94.98 396.59L99.78 394.09ZM100.44 390.42L100.44 395.42L105.24 392.92ZM105.90 389.10L105.90 394.10L110.70 391.60ZM111.36 387.68L111.36 392.68L116.16 390.18ZM116.82 385.99L116.82 390.99L121.62 388.49ZM122.28 384.17L122.28 389.17L127.08 386.67ZM127.74 382.38L127.74 387.38L132.54 384.88ZM133.20 380.80L133.20 385.80L138.00 383.30ZM138.66 379.41L138.66 384.41L143.46 381.91ZM144.12 378.11L144.12 383.11L148.92 380.61ZM149.58 376.87L149.58 381.87L154.38 379.37ZM155.04 375.67L155.04 380.67L159.84 378.17ZM160.50 374.50L160.50 379.50L165.30 377.00ZM165.96 373.36L165.96 378.36L170.76 375.86ZM171.42 372.27L171.42 377.27L176.22 374.77ZM176.88 371.20L176.88 376.20L181.68 373.70ZM182.34 370.15L182.34 375.15L187.14 372.65ZM187.80 369.10L187.80 374.10L192.60 371.60ZM193.26 368.06L193.26 373.06L198.06 370.56ZM198.72 367.02L198.72 372.02L203.52 369.52ZM204.18 366.00L204.18 371.00L208.98 368.50ZM209.64 365.00L209.64 370.00L214.44 367.50ZM215.10 364.00L215.10 369.00L219.90 366.50Z"/>
<path fill="#9400d3" d="M51.30 438.90L51.30 443.90L56.10 441.40ZM56.76 441.90L56.76 446.90L61.56 444.40ZM62.22 445.40L62.22 450.40L67.02 447.90ZM67.68 448.40L67.68 453.40L72.48 450.90ZM73.14 450.40L73.14 455.40L77.94 452.90ZM78.60 451.70L78.60 456.70L83.40 454.20ZM84.06 452.70L84.06 457.70L88.86 455.20ZM89.52 453.25L89.52 458.25L94.32 455.75ZM94.98 453.50L94.98 458.50L99.78 456.00ZM100.44 453.50L100.44 458.50L105.24 456.00ZM105.90 453.50L105.90 458.50L110.70 456.00ZM111.36 453.38L111.36 458.38L116.16 455.88ZM116.82 453.05L116.82 458.05L121.62 455.55ZM122.28 452.58L122.28 457.58L127.08 455.08ZM127.74 452.04L127.74 457.04L132.54 454.54ZM133.20 451.50L133.20 456.50L138.00 454.00ZM138.66 450.89L138.66 455.89L143.46 453.39ZM144.12 450.14L144.12 455.14L148.92 452.64ZM149.58 449.32L149.58 454.32L154.38 451.82ZM155.04 448.48L155.04 453.48L159.84 450.98ZM160.50 447.70L160.50 452.70L165.30 450.20ZM165.96 446.94L165.96 451.94L170.76 449.44ZM171.42 446.18L171.42 451.18L176.22 448.68ZM176.88 445.43L176.88 450.43L181.68 447.93ZM182.34 444.72L182.34 449.72L187.14 447.22ZM187.80 444.10L187.80 449.10L192.60 446.60ZM193.26 443.54L193.26 448.54L198.06 446.04ZM198.72 443.01L198.72 448.01L203.52 445.51ZM204.18 442.53L204.18 447.53L208.98 445.03ZM209.64 442.09L209.64 447.09L214.44 444.59ZM215.10 441.70L215.10 446.70L219.90 444.20Z"/>
<path fill="#9400d3" d="M51.30 475.60L51.30 480.60L56.10 478.10ZM56.76 477.55L56.76 482.55L61.56 480.05ZM62.22 479.20L62.22 484.20L67.02 481.70ZM67.68 480.64L67.68 485.64L72.48 483.14ZM73.14 481.90L73.14 486.90L77.94 484.40ZM78.60 482.70L78.60 487.70L83.40 485.20ZM84.06 483.15L84.06 488.15L88.86 485.65ZM89.52 483.54L89.52 488.54L94.32 486.04ZM94.98 483.84L94.98 488.84L99.78 486.34ZM100.44 484.03L100.44 489.03L105.24 486.53ZM105.90 484.10L105.90 489.10L110.70 486.60ZM111.36 484.05L111.36 489.05L116.16 486.55ZM116.82 483.92L116.82 488.92L121.62 486.42ZM122.28 483.74L122.28 488.74L127.08 486.24ZM127.74 483.52L127.74 488.52L132.54 486.02ZM133.20 483.30L133.20 488.30L138.00 485.80ZM138.66 483.03L138.66 488.03L143.46 485.53ZM144.12 482.69L144.12 487.69L148.92 485.19ZM149.58 482.33L149.58 487.33L154.38 484.83ZM155.04 481.98L155.04 486.98L159.84 484.48ZM160.50 481.70L160.50 486.70L165.30 484.20ZM165.96 481.49L165.96 486.49L170.76 483.99ZM171.42 481.31L171.42 486.31L176.22 483.81ZM176.88 481.15L176.88 486.15L181.68 483.65ZM182.34 480.98L182.34 485.98L187.14 483.48ZM187.80 480.80L187.80 485.80L192.60 483.30ZM193.26 480.60L193.26 485.60L198.06 483.10ZM198.72 480.39L198.72 485.39L203.52 482.89ZM204.18 480.16L204.18 485.16L208.98 482.66ZM209.64 479.94L209.64 484.94L214.44 482.44ZM215.10 479.70L215.10 484.70L219.90 482.20Z"/>
<path fill="#9400d3" d="M51.30 506.40L51.30 511.40L56.10 508.90ZM56.76 506.90L56.76 511.90L61.56 509.40ZM62.22 507.35L62.22 512.35L67.02 509.85ZM67.68 507.74L67.68 512.74L72.48 510.24ZM73.14 508.03L73.14 513.03L77.94 510.53ZM78.60 508.20L78.60 513.20L83.40 510.70ZM84.06 508.30L84.06 513.30L88.86 510.80ZM89.52 508.38L89.52 513.38L94.32 510.88ZM94.98 508.44L94.98 513.44L99.78 510.94ZM100.44 508.49L100.44 513.49L105.24 510.99ZM105.90 508.50L105.90 513.50L110.70 511.00ZM111.36 508.48L111.36 513.48L116.16 510.98ZM116.82 508.43L116.82 513.43L121.62 510.93ZM122.28 508.35L122.28 513.35L127.08 510.85ZM127.74 508.28L127.74 513.28L132.54 510.78ZM133.20 508.20L133.20 513.20L138.00 510.70ZM138.66 508.13L138.66 513.13L143.46 510.63ZM144.12 508.05L144.12 513.05L148.92 510.55ZM149.58 507.97L149.58 512.97L154.38 510.47ZM155.04 507.88L155.04 512.88L159.84 510.38ZM160.50 507.80L160.50 512.80L165.30 510.30ZM165.96 507.72L165.96 512.72L170.76 510.22ZM171.42 507.63L171.42 512.63L176.22 510.13ZM176.88 507.55L176.88 512.55L181.68 510.05ZM182.34 507.47L182.34 512.47L187.14 509.97ZM187.80 507.40L187.80 512.40L192.60 509.90ZM193.26 507.33L193.26 512.33L198.06 509.83ZM198.72 507.27L198.72 512.27L203.52 509.77ZM204.18 507.21L204.18 512.21L208.98 509.71ZM209.64 507.15L209.64 512.15L214.44 509.65ZM215.10 507.10L215.10 512.10L219.90 509.60Z"/>
<path fill="#4db82d" d="M215.30 253.20L217.70 250.80L220.10 253.20L217.70 255.60ZM220.78 251.40L223.18 249.00L225.58 251.40L223.18 253.80ZM226.25 250.20L228.65 247.80L231.05 250.20L228.65 252.60ZM231.73 249.50L234.13 247.10L236.53 249.50L234.13 251.90ZM237.21 249.00L239.61 246.60L242.01 249.00L239.61 251.40ZM242.68 248.20L245.08 245.80L247.48 248.20L245.08 250.60ZM248.16 247.70L250.56 245.30L252.96 247.70L250.56 250.10ZM253.64 247.27L256.04 244.87L258.44 247.27L256.04 249.67ZM259.11 246.92L261.51 244.52L263.91 246.92L261.51 249.32ZM264.59 246.63L266.99 244.23L269.39 246.63L266.99 249.03ZM270.07 246.40L272.47 244.00L274.87 246.40L272.47 248.80ZM275.54 246.21L277.94 243.81L280.34 246.21L277.94 248.61ZM281.02 246.05L283.42 243.65L285.82 246.05L283.42 248.45ZM286.50 245.91L288.90 243.51L291.30 245.91L288.90 248.31ZM291.97 245.80L294.37 243.40L296.77 245.80L294.37 248.20ZM297.45 245.70L299.85 243.30L302.25 245.70L299.85 248.10ZM302.93 245.61L305.33 243.21L307.73 245.61L305.33 248.01ZM308.40 245.52L310.80 243.12L313.20 245.52L310.80 247.92ZM313.88 245.43L316.28 243.03L318.68 245.43L316.28 247.83ZM319.36 245.35L321.76 242.95L324.16 245.35L321.76 247.75ZM324.83 245.27L327.23 242.87L329.63 245.27L327.23 247.67ZM330.31 245.19L332.71 242.79L335.11 245.19L332.71 247.59ZM335.79 245.12L338.19 242.72L340.59 245.12L338.19 247.52ZM341.26 245.05L343.66 242.65L346.06 245.05L343.66 247.45ZM346.74 244.99L349.14 242.59L351.54 244.99L349.14 247.39ZM352.22 244.93L354.62 242.53L357.02 244.93L354.62 247.33ZM357.69 244.89L360.09 242.49L362.49 244.89L360.09 247.29ZM363.17 244.85L365.57 242.45L367.97 244.85L365.57 247.25ZM368.65 244.82L371.05 242.42L373.45 244.82L371.05 247.22ZM374.12 244.81L376.52 242.41L378.92 244.81L376.52 247.21ZM379.60 244.80L382.00 242.40L384.40 244.80L382.00 247.20Z"/>
<path fill="#4db82d" d="M215.30 269.60L217.70 267.20L220.10 269.60L217.70 272.00ZM220.78 265.60L223.18 263.20L225.58 265.60L223.18 268.00ZM226.25 262.70L228.65 260.30L231.05 262.70L228.65 265.10ZM231.73 260.30L234.13 257.90L236.53 260.30L234.13 262.70ZM237.21 258.29L239.61 255.89L242.01 258.29L239.61 260.69ZM242.68 256.70L245.08 254.30L247.48 256.70L245.08 259.10ZM248.16 255.52L250.56 253.12L252.96 255.52L250.56 257.92ZM253.64 254.50L256.04 252.10L258.44 254.50L256.04 256.90ZM259.11 253.62L261.51 251.22L263.91 253.62L261.51 256.02ZM264.59 252.86L266.99 250.46L269.39 252.86L266.99 255.26ZM270.07 252.20L272.47 249.80L274.87 252.20L272.47 254.60ZM275.54 251.62L277.94 249.22L280.34 251.62L277.94 254.02ZM281.02 251.09L283.42 248.69L285.82 251.09L283.42 253.49ZM286.50 250.62L288.90 248.22L291.30 250.62L288.90 253.02ZM291.97 250.22L294.37 247.82L296.77 250.22L294.37 252.62ZM297.45 249.90L299.85 247.50L302.25 249.90L299.85 252.30ZM302.93 249.64L305.33 247.24L307.73 249.64L305.33 252.04ZM308.40 249.42L310.80 247.02L313.20 249.42L310.80 251.82ZM313.88 249.23L316.28 246.83L318.68 249.23L316.28 251.63ZM319.36 249.06L321.76 246.66L324.16 249.06L321.76 251.46ZM324.83 248.90L327.23 246.50L329.63 248.90L327.23 251.30ZM330.31 248.76L332.71 246.36L335.11 248.76L332.71 251.16ZM335.79 248.63L338.19 246.23L340.59 248.63L338.19 251.03ZM341.26 248.52L343.66 246.12L346.06 248.52L343.66 250.92ZM346.74 248.41L349.14 246.01L351.54 248.41L349.14 250.81ZM352.22 248.30L354.62 245.90L357.02 248.30L354.62 250.70ZM357.69 248.19L360.09 245.79L362.49 248.19L360.09 250.59ZM363.17 248.09L365.57 245.69L367.97 248.09L365.57 250.49ZM368.65 247.99L371.05 245.59L373.45 247.99L371.05 250.39ZM374.12 247.89L376.52 245.49L378.92 247.89L376.52 250.29ZM379.60 247.80L382.00 245.40L384.40 247.80L382.00 250.20Z"/>
<path fill="#4db82d" d="M215.30 327.50L217.70 325.10L220.10 327.50L217.70 329.90ZM220.78 316.60L223.18 314.20L225.58 316.60L223.18 319.00ZM226.25 308.70L228.65 306.30L231.05 308.70L228.65 311.10ZM231.73 300.30L234.13 297.90L236.53 300.30L234.13 302.70ZM237.21 294.60L239.61 292.20L242.01 294.60L239.61 297.00ZM242.68 290.40L245.08 288.00L247.48 290.40L245.08 292.80ZM248.16 285.90L250.56 283.50L252.96 285.90L250.56 288.30ZM253.64 283.00L256.04 280.60L258.44 283.00L256.04 285.40ZM259.11 280.00L261.51 277.60L263.91 280.00L261.51 282.40ZM264.59 277.40L266.99 275.00L269.39 277.40L266.99 279.80ZM270.07 275.10L272.47 272.70L274.87 275.10L272.47 277.50ZM275.54 273.10L277.94 270.70L280.34 273.10L277.94 275.50ZM281.02 271.50L283.42 269.10L285.82 271.50L283.42 273.90ZM286.50 270.10L288.90 267.70L291.30 270.10L288.90 272.50ZM291.97 268.70L294.37 266.30L296.77 268.70L294.37 271.10ZM297.45 267.40L299.85 265.00L302.25 267.40L299.85 269.80ZM302.93 266.16L305.33 263.76L307.73 266.16L305.33 268.56ZM308.40 264.91L310.80 262.51L313.20 264.91L310.80 267.31ZM313.88 263.74L316.28 261.34L318.68 263.74L316.28 266.14ZM319.36 262.74L321.76 260.34L324.16 262.74L321.76 265.14ZM324.83 262.00L327.23 259.60L329.63 262.00L327.23 264.40ZM330.31 261.46L332.71 259.06L335.11 261.46L332.71 263.86ZM335.79 261.00L338.19 258.60L340.59 261.00L338.19 263.40ZM341.26 260.62L343.66 258.22L346.06 260.62L343.66 263.02ZM346.74 260.29L349.14 257.89L351.54 260.29L349.14 262.69ZM352.22 260.00L354.62 257.60L357.02 260.00L354.62 262.40ZM357.69 259.74L360.09 257.34L362.49 259.74L360.09 262.14ZM363.17 259.50L365.57 257.10L367.97 259.50L365.57 261.90ZM368.65 259.30L371.05 256.90L373.45 259.30L371.05 261.70ZM374.12 259.13L376.52 256.73L378.92 259.13L376.52 261.53ZM379.60 259.00L382.00 256.60L384.40 259.00L382.00 261.40Z"/>
<path fill="#4db82d" d="M215.30 410.00L217.70 407.60L220.10 410.00L217.70 412.40ZM220.78 398.50L223.18 396.10L225.58 398.50L223.18 400.90ZM226.25 387.70L228.65 385.30L231.05 387.70L228.65 390.10ZM231.73 379.00L234.13 376.60L236.53 379.00L234.13 381.40ZM237.21 371.20L239.61 368.80L242.01 371.20L239.61 373.60ZM242.68 364.10L245.08 361.70L247.48 364.10L245.08 366.50ZM248.16 357.40L250.56 355.00L252.96 357.40L250.56 359.80ZM253.64 351.40L256.04 349.00L258.44 351.40L256.04 353.80ZM259.11 346.40L261.51 344.00L263.91 346.40L261.51 348.80ZM264.59 341.60L266.99 339.20L269.39 341.60L266.99 344.00ZM270.07 337.00L272.47 334.60L274.87 337.00L272.47 339.40ZM275.54 333.80L277.94 331.40L280.34 333.80L277.94 336.20ZM281.02 330.80L283.42 328.40L285.82 330.80L283.42 333.20ZM286.50 327.80L288.90 325.40L291.30 327.80L288.90 330.20ZM291.97 324.90L294.37 322.50L296.77 324.90L294.37 327.30ZM297.45 322.20L299.85 319.80L302.25 322.20L299.85 324.60ZM302.93 319.10L305.33 316.70L307.73 319.10L305.33 321.50ZM308.40 316.30L310.80 313.90L313.20 316.30L310.80 318.70ZM313.88 313.90L316.28 311.50L318.68 313.90L316.28 316.30ZM319.36 311.60L321.76 309.20L324.16 311.60L321.76 314.00ZM324.83 309.80L327.23 307.40L329.63 309.80L327.23 312.20ZM330.31 308.40L332.71 306.00L335.11 308.40L332.71 310.80ZM335.79 307.00L338.19 304.60L340.59 307.00L338.19 309.40ZM341.26 305.70L343.66 303.30L346.06 305.70L343.66 308.10ZM346.74 304.60L349.14 302.20L351.54 304.60L349.14 307.00ZM352.22 303.60L354.62 301.20L357.02 303.60L354.62 306.00ZM357.69 302.60L360.09 300.20L362.49 302.60L360.09 305.00ZM363.17 301.70L365.57 299.30L367.97 301.70L365.57 304.10ZM368.65 300.90L371.05 298.50L373.45 300.90L371.05 303.30ZM374.12 300.20L376.52 297.80L378.92 300.20L376.52 302.60ZM379.60 299.50L382.00 297.10L384.40 299.50L382.00 301.90Z"/>
<path fill="#4db82d" d="M215.30 464.10L217.70 461.70L220.10 464.10L217.70 466.50ZM220.78 457.40L223.18 455.00L225.58 457.40L223.18 459.80ZM226.25 450.00L228.65 447.60L231.05 450.00L228.65 452.40ZM231.73 444.00L234.13 441.60L236.53 444.00L234.13 446.40ZM237.21 438.90L239.61 436.50L242.01 438.90L239.61 441.30ZM242.68 434.80L245.08 432.40L247.48 434.80L245.08 437.20ZM248.16 430.40L250.56 428.00L252.96 430.40L250.56 432.80ZM253.64 426.50L256.04 424.10L258.44 426.50L256.04 428.90ZM259.11 422.60L261.51 420.20L263.91 422.60L261.51 425.00ZM264.59 419.20L266.99 416.80L269.39 419.20L266.99 421.60ZM270.07 416.00L272.47 413.60L274.87 416.00L272.47 418.40ZM275.54 413.40L277.94 411.00L280.34 413.40L277.94 415.80ZM281.02 410.80L283.42 408.40L285.82 410.80L283.42 413.20ZM286.50 408.30L288.90 405.90L291.30 408.30L288.90 410.70ZM291.97 406.00L294.37 403.60L296.77 406.00L294.37 408.40ZM297.45 403.80L299.85 401.40L302.25 403.80L299.85 406.20ZM302.93 401.10L305.33 398.70L307.73 401.10L305.33 403.50ZM308.40 398.80L310.80 396.40L313.20 398.80L310.80 401.20ZM313.88 397.60L316.28 395.20L318.68 397.60L316.28 400.00ZM319.36 396.40L321.76 394.00L324.16 396.40L321.76 398.80ZM324.83 395.00L327.23 392.60L329.63 395.00L327.23 397.40ZM330.31 393.70L332.71 391.30L335.11 393.70L332.71 396.10ZM335.79 392.50L338.19 390.10L340.59 392.50L338.19 394.90ZM341.26 391.50L343.66 389.10L346.06 391.50L343.66 393.90ZM346.74 390.30L349.14 387.90L351.54 390.30L349.14 392.70ZM352.22 389.20L354.62 386.80L357.02 389.20L354.62 391.60ZM357.69 388.20L360.09 385.80L362.49 388.20L360.09 390.60ZM363.17 387.20L365.57 384.80L367.97 387.20L365.57 389.60ZM368.65 386.20L371.05 383.80L373.45 386.20L371.05 388.60ZM374.12 385.30L376.52 382.90L378.92 385.30L376.52 387.70ZM379.60 384.40L382.00 382.00L384.40 384.40L382.00 386.80Z"/>
<path fill="#4db82d" d="M215.30 506.50L217.70 504.10L220.10 506.50L217.70 508.90ZM220.78 505.10L223.18 502.70L225.58 505.10L223.18 507.50ZM226.25 503.50L228.65 501.10L231.05 503.50L228.65 505.90ZM231.73 501.80L234.13 499.40L236.53 501.80L234.13 504.20ZM237.21 500.60L239.61 498.20L242.01 500.60L239.61 503.00ZM242.68 499.60L245.08 497.20L247.48 499.60L245.08 502.00ZM248.16 498.57L250.56 496.17L252.96 498.57L250.56 500.97ZM253.64 497.60L256.04 495.20L258.44 497.60L256.04 500.00ZM259.11 496.71L261.51 494.31L263.91 496.71L261.51 499.11ZM264.59 495.89L266.99 493.49L269.39 495.89L266.99 498.29ZM270.07 495.20L272.47 492.80L274.87 495.20L272.47 497.60ZM275.54 494.68L277.94 492.28L280.34 494.68L277.94 497.08ZM281.02 494.24L283.42 491.84L285.82 494.24L283.42 496.64ZM286.50 493.80L288.90 491.40L291.30 493.80L288.90 496.20ZM291.97 493.33L294.37 490.93L296.77 493.33L294.37 495.73ZM297.45 492.90L299.85 490.50L302.25 492.90L299.85 495.30ZM302.93 492.51L305.33 490.11L307.73 492.51L305.33 494.91ZM308.40 492.14L310.80 489.74L313.20 492.14L310.80 494.54ZM313.88 491.79L316.28 489.39L318.68 491.79L316.28 494.19ZM319.36 491.47L321.76 489.07L324.16 491.47L321.76 493.87ZM324.83 491.20L327.23 488.80L329.63 491.20L327.23 493.60ZM330.31 490.97L332.71 488.57L335.11 490.97L332.71 493.37ZM335.79 490.76L338.19 488.36L340.59 490.76L338.19 493.16ZM341.26 490.57L343.66 488.17L346.06 490.57L343.66 492.97ZM346.74 490.38L349.14 487.98L351.54 490.38L349.14 492.78ZM352.22 490.20L354.62 487.80L357.02 490.20L354.62 492.60ZM357.69 490.01L360.09 487.61L362.49 490.01L360.09 492.41ZM363.17 489.83L365.57 487.43L367.97 489.83L365.57 492.23ZM368.65 489.65L371.05 487.25L373.45 489.65L371.05 492.05ZM374.12 489.47L376.52 487.07L378.92 489.47L376.52 491.87ZM379.60 489.30L382.00 486.90L384.40 489.30L382.00 491.70Z"/>
<path fill="#ff8000" d="M219.85 255.45L219.85 259.95L215.55 257.70ZM225.33 254.45L225.33 258.95L221.03 256.70ZM230.80 253.51L230.80 258.01L226.50 255.76ZM236.28 252.64L236.28 257.14L231.98 254.89ZM241.76 251.85L241.76 256.35L237.46 254.10ZM247.23 251.15L247.23 255.65L242.93 253.40ZM252.71 250.52L252.71 255.02L248.41 252.77ZM258.19 249.94L258.19 254.44L253.89 252.19ZM263.66 249.42L263.66 253.92L259.36 251.67ZM269.14 248.95L269.14 253.45L264.84 251.20ZM274.62 248.55L274.62 253.05L270.32 250.80ZM280.09 248.21L280.09 252.71L275.79 250.46ZM285.57 247.90L285.57 252.40L281.27 250.15ZM291.05 247.63L291.05 252.13L286.75 249.88ZM296.52 247.38L296.52 251.88L292.22 249.63ZM302.00 247.15L302.00 251.65L297.70 249.40ZM307.48 246.94L307.48 251.44L303.18 249.19ZM312.95 246.75L312.95 251.25L308.65 249.00ZM318.43 246.58L318.43 251.08L314.13 248.83ZM323.91 246.41L323.91 250.91L319.61 248.66ZM329.38 246.25L329.38 250.75L325.08 248.50ZM334.86 246.10L334.86 250.60L330.56 248.35ZM340.34 245.95L340.34 250.45L336.04 248.20ZM345.81 245.80L345.81 250.30L341.51 248.05ZM351.29 245.67L351.29 250.17L346.99 247.92ZM356.77 245.55L356.77 250.05L352.47 247.80ZM362.24 245.44L362.24 249.94L357.94 247.69ZM367.72 245.33L367.72 249.83L363.42 247.58ZM373.20 245.23L373.20 249.73L368.90 247.48ZM378.67 245.13L378.67 249.63L374.37 247.38ZM384.15 245.05L384.15 249.55L379.85 247.30Z"/>
<path fill="#ff8000" d="M219.85 331.95L219.85 336.45L215.55 334.20ZM225.33 327.65L225.33 332.15L221.03 329.90ZM230.80 324.75L230.80 329.25L226.50 327.00ZM236.28 321.25L236.28 325.75L231.98 323.50ZM241.76 318.05L241.76 322.55L237.46 320.30ZM247.23 314.95L247.23 319.45L242.93 317.20ZM252.71 312.25L252.71 316.75L248.41 314.50ZM258.19 309.45L258.19 313.95L253.89 311.70ZM263.66 306.95L263.66 311.45L259.36 309.20ZM269.14 304.45L269.14 308.95L264.84 306.70ZM274.62 301.95L274.62 306.45L270.32 304.20ZM280.09 299.55L280.09 304.05L275.79 301.80ZM285.57 297.35L285.57 301.85L281.27 299.60ZM291.05 295.25L291.05 299.75L286.75 297.50ZM296.52 293.25L296.52 297.75L292.22 295.50ZM302.00 291.35L302.00 295.85L297.70 293.60ZM307.48 289.64L307.48 294.14L303.18 291.89ZM312.95 288.01L312.95 292.51L308.65 290.26ZM318.43 286.46L318.43 290.96L314.13 288.71ZM323.91 285.00L323.91 289.50L319.61 287.25ZM329.38 283.65L329.38 288.15L325.08 285.90ZM334.86 282.38L334.86 286.88L330.56 284.63ZM340.34 281.16L340.34 285.66L336.04 283.41ZM345.81 280.02L345.81 284.52L341.51 282.27ZM351.29 278.98L351.29 283.48L346.99 281.23ZM356.77 278.05L356.77 282.55L352.47 280.30ZM362.24 277.21L362.24 281.71L357.94 279.46ZM367.72 276.43L367.72 280.93L363.42 278.68ZM373.20 275.72L373.20 280.22L368.90 277.97ZM378.67 275.09L378.67 279.59L374.37 277.34ZM384.15 274.55L384.15 279.05L379.85 276.80Z"/>
<path fill="#ff8000" d="M219.85 432.75L219.85 437.25L215.55 435.00ZM225.33 429.15L225.33 433.65L221.03 431.40ZM230.80 425.65L230.80 430.15L226.50 427.90ZM236.28 422.55L236.28 427.05L231.98 424.80ZM241.76 419.35L241.76 423.85L237.46 421.60ZM247.23 415.45L247.23 419.95L242.93 417.70ZM252.71 411.45L252.71 415.95L248.41 413.70ZM258.19 407.85L258.19 412.35L253.89 410.10ZM263.66 404.45L263.66 408.95L259.36 406.70ZM269.14 401.35L269.14 405.85L264.84 403.60ZM274.62 398.25L274.62 402.75L270.32 400.50ZM280.09 394.95L280.09 399.45L275.79 397.20ZM285.57 391.75L285.57 396.25L281.27 394.00ZM291.05 389.25L291.05 393.75L286.75 391.50ZM296.52 385.75L296.52 390.25L292.22 388.00ZM302.00 382.35L302.00 386.85L297.70 384.60ZM307.48 379.82L307.48 384.32L303.18 382.07ZM312.95 377.55L312.95 382.05L308.65 379.80ZM318.43 375.25L318.43 379.75L314.13 377.50ZM323.91 373.14L323.91 377.64L319.61 375.39ZM329.38 371.15L329.38 375.65L325.08 373.40ZM334.86 369.28L334.86 373.78L330.56 371.53ZM340.34 367.50L340.34 372.00L336.04 369.75ZM345.81 365.75L345.81 370.25L341.51 368.00ZM351.29 364.00L351.29 368.50L346.99 366.25ZM356.77 362.35L356.77 366.85L352.47 364.60ZM362.24 360.89L362.24 365.39L357.94 363.14ZM367.72 359.55L367.72 364.05L363.42 361.80ZM373.20 358.30L373.20 362.80L368.90 360.55ZM378.67 357.13L378.67 361.63L374.37 359.38ZM384.15 356.05L384.15 360.55L379.85 358.30Z"/>
<path fill="#ff8000" d="M219.85 488.05L219.85 492.55L215.55 490.30ZM225.33 486.05L225.33 490.55L221.03 488.30ZM230.80 484.15L230.80 488.65L226.50 486.40ZM236.28 482.15L236.28 486.65L231.98 484.40ZM241.76 480.15L241.76 484.65L237.46 482.40ZM247.23 478.25L247.23 482.75L242.93 480.50ZM252.71 476.55L252.71 481.05L248.41 478.80ZM258.19 474.85L258.19 479.35L253.89 477.10ZM263.66 473.25L263.66 477.75L259.36 475.50ZM269.14 471.55L269.14 476.05L264.84 473.80ZM274.62 469.85L274.62 474.35L270.32 472.10ZM280.09 468.35L280.09 472.85L275.79 470.60ZM285.57 466.75L285.57 471.25L281.27 469.00ZM291.05 465.25L291.05 469.75L286.75 467.50ZM296.52 463.75L296.52 468.25L292.22 466.00ZM302.00 462.35L302.00 466.85L297.70 464.60ZM307.48 460.80L307.48 465.30L303.18 463.05ZM312.95 459.15L312.95 463.65L308.65 461.40ZM318.43 457.48L318.43 461.98L314.13 459.73ZM323.91 455.92L323.91 460.42L319.61 458.17ZM329.38 454.55L329.38 459.05L325.08 456.80ZM334.86 453.38L334.86 457.88L330.56 455.63ZM340.34 452.30L340.34 456.80L336.04 454.55ZM345.81 451.31L345.81 455.81L341.51 453.56ZM351.29 450.36L351.29 454.86L346.99 452.61ZM356.77 449.45L356.77 453.95L352.47 451.70ZM362.24 448.56L362.24 453.06L357.94 450.81ZM367.72 447.70L367.72 452.20L363.42 449.95ZM373.20 446.88L373.20 451.38L368.90 449.13ZM378.67 446.09L378.67 450.59L374.37 448.34ZM384.15 445.35L384.15 449.85L379.85 447.60Z"/>
<path fill="#0000ff" d="M215.20 242.50L220.20 242.50L217.70 247.00ZM220.68 242.48L225.68 242.48L223.18 246.98ZM226.15 242.45L231.15 242.45L228.65 246.95ZM231.63 242.43L236.63 242.43L234.13 246.93ZM237.11 242.42L242.11 242.42L239.61 246.92ZM242.58 242.40L247.58 242.40L245.08 246.90ZM248.06 242.39L253.06 242.39L250.56 246.89ZM253.54 242.37L258.54 242.37L256.04 246.87ZM259.01 242.36L264.01 242.36L261.51 246.86ZM264.49 242.35L269.49 242.35L266.99 246.85ZM269.97 242.34L274.97 242.34L272.47 246.84ZM275.44 242.33L280.44 242.33L277.94 246.83ZM280.92 242.32L285.92 242.32L283.42 246.82ZM286.40 242.32L291.40 242.32L288.90 246.82ZM291.87 242.31L296.87 242.31L294.37 246.81ZM297.35 242.30L302.35 242.30L299.85 246.80ZM302.83 242.29L307.83 242.29L305.33 246.79ZM308.30 242.28L313.30 242.28L310.80 246.78ZM313.78 242.28L318.78 242.28L316.28 246.78ZM319.26 242.27L324.26 242.27L321.76 246.77ZM324.73 242.26L329.73 242.26L327.23 246.76ZM330.21 242.25L335.21 242.25L332.71 246.75ZM335.69 242.25L340.69 242.25L338.19 246.75ZM341.16 242.24L346.16 242.24L343.66 246.74ZM346.64 242.23L351.64 242.23L349.14 246.73ZM352.12 242.23L357.12 242.23L354.62 246.73ZM357.59 242.22L362.59 242.22L360.09 246.72ZM363.07 242.22L368.07 242.22L365.57 246.72ZM368.55 242.21L373.55 242.21L371.05 246.71ZM374.02 242.20L379.02 242.20L376.52 246.70ZM379.50 242.20L384.50 242.20L382.00 246.70Z"/>
<path fill="#0000ff" d="M215.20 250.10L220.20 250.10L217.70 254.60ZM220.68 248.70L225.68 248.70L223.18 253.20ZM226.15 247.66L231.15 247.66L228.65 252.16ZM231.63 246.74L236.63 246.74L234.13 251.24ZM237.11 245.97L242.11 245.97L239.61 250.47ZM242.58 245.40L247.58 245.40L245.08 249.90ZM248.06 244.96L253.06 244.96L250.56 249.46ZM253.54 244.58L258.54 244.58L256.04 249.08ZM259.01 244.26L264.01 244.26L261.51 248.76ZM264.49 244.00L269.49 244.00L266.99 248.50ZM269.97 243.80L274.97 243.80L272.47 248.30ZM275.44 243.64L280.44 243.64L277.94 248.14ZM280.92 243.50L285.92 243.50L283.42 248.00ZM286.40 243.39L291.40 243.39L288.90 247.89ZM291.87 243.29L296.87 243.29L294.37 247.79ZM297.35 243.20L302.35 243.20L299.85 247.70ZM302.83 243.12L307.83 243.12L305.33 247.62ZM308.30 243.03L313.30 243.03L310.80 247.53ZM313.78 242.95L318.78 242.95L316.28 247.45ZM319.26 242.87L324.26 242.87L321.76 247.37ZM324.73 242.80L329.73 242.80L327.23 247.30ZM330.21 242.72L335.21 242.72L332.71 247.22ZM335.69 242.65L340.69 242.65L338.19 247.15ZM341.16 242.59L346.16 242.59L343.66 247.09ZM346.64 242.53L351.64 242.53L349.14 247.03ZM352.12 242.47L357.12 242.47L354.62 246.97ZM357.59 242.42L362.59 242.42L360.09 246.92ZM363.07 242.38L368.07 242.38L365.57 246.88ZM368.55 242.35L373.55 242.35L371.05 246.85ZM374.02 242.32L379.02 242.32L376.52 246.82ZM379.50 242.30L384.50 242.30L382.00 246.80Z"/>
<path fill="#0000ff" d="M215.20 307.60L220.20 307.60L217.70 312.10ZM220.68 302.10L225.68 302.10L223.18 306.60ZM226.15 295.50L231.15 295.50L228.65 300.00ZM231.63 291.00L236.63 291.00L234.13 295.50ZM237.11 287.60L242.11 287.60L239.61 292.10ZM242.58 283.80L247.58 283.80L245.08 288.30ZM248.06 279.70L253.06 279.70L250.56 284.20ZM253.54 276.90L258.54 276.90L256.04 281.40ZM259.01 274.00L264.01 274.00L261.51 278.50ZM264.49 272.00L269.49 272.00L266.99 276.50ZM269.97 269.80L274.97 269.80L272.47 274.30ZM275.44 268.00L280.44 268.00L277.94 272.50ZM280.92 266.50L285.92 266.50L283.42 271.00ZM286.40 265.10L291.40 265.10L288.90 269.60ZM291.87 263.50L296.87 263.50L294.37 268.00ZM297.35 262.20L302.35 262.20L299.85 266.70ZM302.83 261.11L307.83 261.11L305.33 265.61ZM308.30 260.09L313.30 260.09L310.80 264.59ZM313.78 259.15L318.78 259.15L316.28 263.65ZM319.26 258.31L324.26 258.31L321.76 262.81ZM324.73 257.60L329.73 257.60L327.23 262.10ZM330.21 256.97L335.21 256.97L332.71 261.47ZM335.69 256.40L340.69 256.40L338.19 260.90ZM341.16 255.89L346.16 255.89L343.66 260.39ZM346.64 255.45L351.64 255.45L349.14 259.95ZM352.12 255.10L357.12 255.10L354.62 259.60ZM357.59 254.80L362.59 254.80L360.09 259.30ZM363.07 254.53L368.07 254.53L365.57 259.03ZM368.55 254.30L373.55 254.30L371.05 258.80ZM374.02 254.12L379.02 254.12L376.52 258.62ZM379.50 254.00L384.50 254.00L382.00 258.50Z"/>
<path fill="#0000ff" d="M215.20 408.60L220.20 408.60L217.70 413.10ZM220.68 400.70L225.68 400.70L223.18 405.20ZM226.15 391.50L231.15 391.50L228.65 396.00ZM231.63 383.70L236.63 383.70L234.13 388.20ZM237.11 375.40L242.11 375.40L239.61 379.90ZM242.58 368.50L247.58 368.50L245.08 373.00ZM248.06 361.60L253.06 361.60L250.56 366.10ZM253.54 355.30L258.54 355.30L256.04 359.80ZM259.01 349.30L264.01 349.30L261.51 353.80ZM264.49 343.40L269.49 343.40L266.99 347.90ZM269.97 339.10L274.97 339.10L272.47 343.60ZM275.44 334.60L280.44 334.60L277.94 339.10ZM280.92 330.20L285.92 330.20L283.42 334.70ZM286.40 326.40L291.40 326.40L288.90 330.90ZM291.87 322.50L296.87 322.50L294.37 327.00ZM297.35 319.00L302.35 319.00L299.85 323.50ZM302.83 315.40L307.83 315.40L305.33 319.90ZM308.30 311.90L313.30 311.90L310.80 316.40ZM313.78 308.80L318.78 308.80L316.28 313.30ZM319.26 306.20L324.26 306.20L321.76 310.70ZM324.73 303.60L329.73 303.60L327.23 308.10ZM330.21 301.50L335.21 301.50L332.71 306.00ZM335.69 299.50L340.69 299.50L338.19 304.00ZM341.16 297.50L346.16 297.50L343.66 302.00ZM346.64 295.90L351.64 295.90L349.14 300.40ZM352.12 294.30L357.12 294.30L354.62 298.80ZM357.59 293.10L362.59 293.10L360.09 297.60ZM363.07 291.80L368.07 291.80L365.57 296.30ZM368.55 290.60L373.55 290.60L371.05 295.10ZM374.02 289.60L379.02 289.60L376.52 294.10ZM379.50 288.50L384.50 288.50L382.00 293.00Z"/>
<path fill="#0000ff" d="M215.20 478.30L220.20 478.30L217.70 482.80ZM220.68 473.40L225.68 473.40L223.18 477.90ZM226.15 468.50L231.15 468.50L228.65 473.00ZM231.63 463.10L236.63 463.10L234.13 467.60ZM237.11 458.00L242.11 458.00L239.61 462.50ZM242.58 453.40L247.58 453.40L245.08 457.90ZM248.06 447.90L253.06 447.90L250.56 452.40ZM253.54 443.10L258.54 443.10L256.04 447.60ZM259.01 438.30L264.01 438.30L261.51 442.80ZM264.49 433.40L269.49 433.40L266.99 437.90ZM269.97 428.20L274.97 428.20L272.47 432.70ZM275.44 423.50L280.44 423.50L277.94 428.00ZM280.92 418.80L285.92 418.80L283.42 423.30ZM286.40 414.20L291.40 414.20L288.90 418.70ZM291.87 409.90L296.87 409.90L294.37 414.40ZM297.35 405.90L302.35 405.90L299.85 410.40ZM302.83 401.90L307.83 401.90L305.33 406.40ZM308.30 398.60L313.30 398.60L310.80 403.10ZM313.78 395.40L318.78 395.40L316.28 399.90ZM319.26 392.10L324.26 392.10L321.76 396.60ZM324.73 389.10L329.73 389.10L327.23 393.60ZM330.21 386.30L335.21 386.30L332.71 390.80ZM335.69 383.50L340.69 383.50L338.19 388.00ZM341.16 380.90L346.16 380.90L343.66 385.40ZM346.64 378.70L351.64 378.70L349.14 383.20ZM352.12 376.40L357.12 376.40L354.62 380.90ZM357.59 374.30L362.59 374.30L360.09 378.80ZM363.07 372.30L368.07 372.30L365.57 376.80ZM368.55 370.40L373.55 370.40L371.05 374.90ZM374.02 368.60L379.02 368.60L376.52 373.10ZM379.50 366.80L384.50 366.80L382.00 371.30Z"/>
<path fill="#0000ff" d="M215.20 511.10L220.20 511.10L217.70 515.60ZM220.68 510.99L225.68 510.99L223.18 515.49ZM226.15 510.84L231.15 510.84L228.65 515.34ZM231.63 510.65L236.63 510.65L234.13 515.15ZM237.11 510.44L242.11 510.44L239.61 514.94ZM242.58 510.20L247.58 510.20L245.08 514.70ZM248.06 509.91L253.06 509.91L250.56 514.41ZM253.54 509.54L258.54 509.54L256.04 514.04ZM259.01 509.13L264.01 509.13L261.51 513.63ZM264.49 508.70L269.49 508.70L266.99 513.20ZM269.97 508.30L274.97 508.30L272.47 512.80ZM275.44 507.92L280.44 507.92L277.94 512.42ZM280.92 507.53L285.92 507.53L283.42 512.03ZM286.40 507.14L291.40 507.14L288.90 511.64ZM291.87 506.77L296.87 506.77L294.37 511.27ZM297.35 506.40L302.35 506.40L299.85 510.90ZM302.83 506.04L307.83 506.04L305.33 510.54ZM308.30 505.69L313.30 505.69L310.80 510.19ZM313.78 505.35L318.78 505.35L316.28 509.85ZM319.26 505.02L324.26 505.02L321.76 509.52ZM324.73 504.70L329.73 504.70L327.23 509.20ZM330.21 504.40L335.21 504.40L332.71 508.90ZM335.69 504.11L340.69 504.11L338.19 508.61ZM341.16 503.83L346.16 503.83L343.66 508.33ZM346.64 503.56L351.64 503.56L349.14 508.06ZM352.12 503.30L357.12 503.30L354.62 507.80ZM357.59 503.04L362.59 503.04L360.09 507.54ZM363.07 502.80L368.07 502.80L365.57 507.30ZM368.55 502.56L373.55 502.56L371.05 507.06ZM374.02 502.32L379.02 502.32L376.52 506.82ZM379.50 502.10L384.50 502.10L382.00 506.60Z"/>
<path fill="#ff8000" d="M219.85 513.55L219.85 518.05L215.55 515.80ZM225.33 513.39L225.33 517.89L221.03 515.64ZM230.80 513.23L230.80 517.73L226.50 515.48ZM236.28 513.07L236.28 517.57L231.98 515.32ZM241.76 512.92L241.76 517.42L237.46 515.17ZM247.23 512.77L247.23 517.27L242.93 515.02ZM252.71 512.63L252.71 517.13L248.41 514.88ZM258.19 512.49L258.19 516.99L253.89 514.74ZM263.66 512.35L263.66 516.85L259.36 514.60ZM269.14 512.22L269.14 516.72L264.84 514.47ZM274.62 512.10L274.62 516.60L270.32 514.35ZM280.09 511.98L280.09 516.48L275.79 514.23ZM285.57 511.86L285.57 516.36L281.27 514.11ZM291.05 511.75L291.05 516.25L286.75 514.00ZM296.52 511.65L296.52 516.15L292.22 513.90ZM302.00 511.55L302.00 516.05L297.70 513.80ZM307.48 511.46L307.48 515.96L303.18 513.71ZM312.95 511.36L312.95 515.86L308.65 513.61ZM318.43 511.27L318.43 515.77L314.13 513.52ZM323.91 511.19L323.91 515.69L319.61 513.44ZM329.38 511.10L329.38 515.60L325.08 513.35ZM334.86 511.02L334.86 515.52L330.56 513.27ZM340.34 510.94L340.34 515.44L336.04 513.19ZM345.81 510.87L345.81 515.37L341.51 513.12ZM351.29 510.79L351.29 515.29L346.99 513.04ZM356.77 510.73L356.77 515.23L352.47 512.98ZM362.24 510.66L362.24 515.16L357.94 512.91ZM367.72 510.60L367.72 515.10L363.42 512.85ZM373.20 510.55L373.20 515.05L368.90 512.80ZM378.67 510.50L378.67 515.00L374.37 512.75ZM384.15 510.45L384.15 514.95L379.85 512.70Z"/>
</g>
<rect x="53" y="243.1" width="329" height="0.6" fill="#2a2a2a"/>
<rect x="217.05" y="243" width="0.6" height="14" fill="#2a2a2a"/>
<g id="labels" filter="url(#aa)">
<path fill="#000" d="M42.85 238.60L42.85 248.00L41.75 248.00L41.75 241.49L38.54 241.49L38.54 240.56C40.40 240.46 41.66 239.78 42.10 238.60Z"/>
<text transform="translate(44.9 522.00) scale(0.96 1)" text-anchor="end" font-size="14">0</text>
<text transform="translate(44.9 467.30) scale(0.96 1)" text-anchor="end" font-size="14">0.2</text>
<text transform="translate(44.9 412.60) scale(0.96 1)" text-anchor="end" font-size="14">0.4</text>
<text transform="translate(44.9 357.90) scale(0.96 1)" text-anchor="end" font-size="14">0.6</text>
<text transform="translate(44.9 303.20) scale(0.96 1)" text-anchor="end" font-size="14">0.8</text>
<text x="81.20" y="535.4" text-anchor="middle" font-size="15.5">200</text>
<text x="245.08" y="535.4" text-anchor="middle" font-size="15.5">200</text>
<text x="135.80" y="535.4" text-anchor="middle" font-size="15.5">400</text>
<text x="299.85" y="535.4" text-anchor="middle" font-size="15.5">400</text>
<text x="190.40" y="535.4" text-anchor="middle" font-size="15.5">600</text>
<text x="354.62" y="535.4" text-anchor="middle" font-size="15.5">600</text>
<text x="189.3" y="547.7" font-size="16.3">b</text>
<rect x="199.7" y="535.1" width="5.0" height="0.9" fill="#000"/>
<path fill="#000" d="M208.30 531.40L208.30 537.50L207.59 537.50L207.59 533.27L205.50 533.27L205.50 532.67C206.71 532.61 207.52 532.16 207.81 531.40Z"/>
<text x="214.9" y="547.8" font-size="16.3">[MeV]</text>
<text transform="translate(16 390.7) rotate(-90)" font-size="16.6">R</text>
<text transform="translate(20.6 379.5) rotate(-90) scale(0.92 1)" font-size="10.3">F</text>
</g>
<g id="legend" filter="url(#aa)">
<circle cx="65.2" cy="318.7" r="2.2" fill="#000"/>
<path fill="#ff0000" d="M62.95 337.95L67.85 337.95L65.40 333.80Z"/>
<path fill="#9400d3" d="M62.80 350.30L62.80 355.30L67.60 352.80Z"/>
<text transform="translate(73.06 322.60) scale(1.125 1)" style="font-family:'Liberation Serif',serif" font-size="14.0">ρ</text>
<rect x="80.90" y="318.75" width="6.90" height="0.95" fill="#111"/>
<text transform="translate(87.95 322.75) scale(0.933 1)" style="font-family:'Liberation Sans',sans-serif" font-size="14.0">&gt;</text>
<text transform="translate(95.65 322.60) scale(1.101 1)" style="font-family:'Liberation Serif',serif" font-size="14.0">π</text>
<text transform="translate(106.55 322.60) scale(1.101 1)" style="font-family:'Liberation Serif',serif" font-size="14.0">π</text>
<text transform="translate(72.88 340.20) scale(0.988 1)" style="font-family:'Liberation Sans',sans-serif" font-size="14.2">K</text>
<text transform="translate(82.56 330.30) scale(0.980 1)" style="font-family:'Liberation Sans',sans-serif" font-size="7">*</text>
<rect x="86.10" y="336.35" width="6.80" height="0.95" fill="#111"/>
<text transform="translate(93.24 340.35) scale(0.948 1)" style="font-family:'Liberation Sans',sans-serif" font-size="14.0">&gt;</text>
<text transform="translate(100.82 340.20) scale(0.951 1)" style="font-family:'Liberation Sans',sans-serif" font-size="14.2">K</text>
<text transform="translate(109.65 340.20) scale(1.071 1)" style="font-family:'Liberation Serif',serif" font-size="14.0">π</text>
<text transform="translate(73.39 357.50) scale(1.063 1)" style="font-family:'Liberation Serif',serif" font-size="14.4">Σ</text>
<text transform="translate(81.94 350.30) scale(1.067 1)" style="font-family:'Liberation Sans',sans-serif" font-size="7.5">*</text>
<rect x="85.50" y="353.65" width="6.90" height="0.95" fill="#111"/>
<text transform="translate(92.85 357.65) scale(0.933 1)" style="font-family:'Liberation Sans',sans-serif" font-size="14.0">&gt;</text>
<text transform="translate(100.28 357.50) scale(0.865 1)" style="font-family:'Liberation Serif',serif" font-size="14.2">Λ</text>
<text transform="translate(109.65 357.50) scale(1.071 1)" style="font-family:'Liberation Serif',serif" font-size="14.0">π</text>
<path fill="#4db82d" d="M307.60 322.00L310.00 319.60L312.40 322.00L310.00 324.40Z"/>
<path fill="#0000ff" d="M307.50 336.20L312.50 336.20L310.00 340.70Z"/>
<path fill="#ff8000" d="M312.15 352.55L312.15 357.05L307.85 354.80Z"/>
<text transform="translate(318.01 326.70) scale(1.048 1)" style="font-family:'Liberation Serif',serif" font-size="14.0">η</text>
<rect x="325.90" y="322.85" width="6.80" height="0.95" fill="#111"/>
<text transform="translate(333.35 326.85) scale(0.933 1)" style="font-family:'Liberation Sans',sans-serif" font-size="14.0">&gt;</text>
<text transform="translate(340.86 326.70) scale(0.959 1)" style="font-family:'Liberation Sans',sans-serif" font-size="14.2">3</text>
<text transform="translate(347.85 326.70) scale(1.042 1)" style="font-family:'Liberation Serif',serif" font-size="14.0">π</text>
<text transform="translate(317.45 342.90) scale(0.990 1)" style="font-family:'Liberation Serif',serif" font-size="14.0">Δ</text>
<rect x="326.10" y="339.05" width="6.60" height="0.95" fill="#111"/>
<text transform="translate(332.64 343.05) scale(0.948 1)" style="font-family:'Liberation Sans',sans-serif" font-size="14.0">&gt;</text>
<text transform="translate(339.48 342.90) scale(1.024 1)" style="font-family:'Liberation Sans',sans-serif" font-size="14.2">p</text>
<text transform="translate(347.25 342.90) scale(1.057 1)" style="font-family:'Liberation Serif',serif" font-size="14.0">π</text>
<text transform="translate(317.60 359.10) scale(1.071 1)" style="font-family:'Liberation Serif',serif" font-size="14.0">ω</text>
<rect x="327.10" y="355.25" width="6.60" height="0.95" fill="#111"/>
<text transform="translate(333.56 359.25) scale(0.918 1)" style="font-family:'Liberation Sans',sans-serif" font-size="14.0">&gt;</text>
<text transform="translate(340.86 359.10) scale(0.959 1)" style="font-family:'Liberation Sans',sans-serif" font-size="14.2">3</text>
<text transform="translate(347.95 359.10) scale(1.057 1)" style="font-family:'Liberation Serif',serif" font-size="14.0">π</text>
</g>
</svg>
</body></html>
